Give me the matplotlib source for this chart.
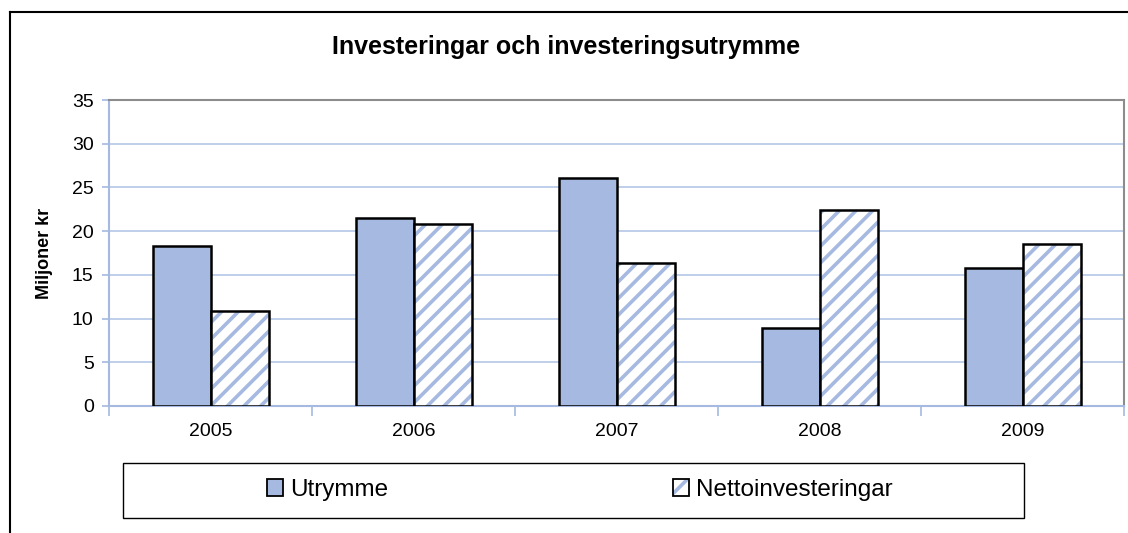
import numpy as np
import matplotlib.pyplot as plt
from matplotlib.lines import Line2D
from matplotlib.patches import Rectangle, Patch

plt.rcParams['font.family'] = ['Liberation Sans', 'DejaVu Sans']
plt.rcParams['hatch.linewidth'] = 2.6

years = ['2005', '2006', '2007', '2008', '2009']
utrymme = [18.3, 21.5, 26.1, 8.9, 15.8]
netto = [10.9, 20.8, 16.4, 22.4, 18.5]

fill = '#A6B9E0'
W, H = 1128, 533

fig = plt.figure(figsize=(W / 100, H / 100), dpi=100)
ax = fig.add_axes([109 / W, 1 - 406 / H, (1124 - 109) / W, (406 - 100) / H])

x = np.arange(len(years))
w = 1 / 3.5
ax.bar(x - w / 2, utrymme, w, color=fill, edgecolor='black', linewidth=1.8, zorder=3)
# hatched bars: hatch in light blue, outline in black on top
ax.bar(x + w / 2, netto, w, color='white', edgecolor=fill, hatch='//', linewidth=0, zorder=3)
ax.bar(x + w / 2, netto, w, fill=False, edgecolor='black', linewidth=1.8, zorder=4)

ax.set_xlim(-0.5, len(years) - 0.5)
ax.set_ylim(0, 35)
ax.set_yticks(range(0, 36, 5))
ax.set_xticks(x)
ax.set_xticklabels(years)
ax.set_xticks(np.arange(-0.5, len(years)), minor=True)
ax.tick_params(axis='x', which='major', length=0, labelsize=14, pad=12)
ax.tick_params(axis='x', which='minor', length=7, color='#A6B9E0', width=1.2)
ax.tick_params(axis='y', length=5, color='#A6B9E0', width=1.2, labelsize=14, pad=6)

ax.grid(axis='y', color='#B4C7E7', linewidth=1.2, zorder=0)
ax.set_axisbelow(True)
for s in ['left', 'bottom']:
    ax.spines[s].set_color('#A6B9E0')
    ax.spines[s].set_linewidth(1.5)
for s in ['top', 'right']:
    ax.spines[s].set_color('#8C8C8C')
    ax.spines[s].set_linewidth(1.5)

ax.set_ylabel('Miljoner kr', fontsize=13, fontweight='bold', labelpad=14)
fig.text(566 / W, 1 - 47 / H, 'Investeringar och investeringsutrymme',
         fontsize=18, fontweight='bold', ha='center', va='center')

# outer chart frame (only left and top edges visible)
fig.add_artist(Line2D([10 / W, 10 / W], [0, 1 - 12 / H], color='black', linewidth=1.5))
fig.add_artist(Line2D([10 / W, 1], [1 - 12 / H, 1 - 12 / H], color='black', linewidth=1.5))

# legend box
fig.add_artist(Rectangle((123 / W, 1 - 518 / H), (1024 - 123) / W, (518 - 463) / H,
                         transform=fig.transFigure, fill=False, edgecolor='black', linewidth=1.0))
h1 = Patch(facecolor=fill, edgecolor='black', linewidth=1.3)
# tuple handle -> patches drawn on top of each other
h2 = (Patch(facecolor='white', edgecolor=fill, hatch='/', linewidth=0),
      Patch(fill=False, edgecolor='black', linewidth=1.3))
leg = fig.legend([h1, h2], ['Utrymme', 'Nettoinvesteringar'], ncol=2, frameon=False,
                 loc='center', bbox_to_anchor=(580 / W, 1 - 490 / H), fontsize=17.5,
                 handlelength=0.65, handleheight=0.65, handletextpad=0.3, columnspacing=11.7)

fig.savefig('out.png', dpi=100)
